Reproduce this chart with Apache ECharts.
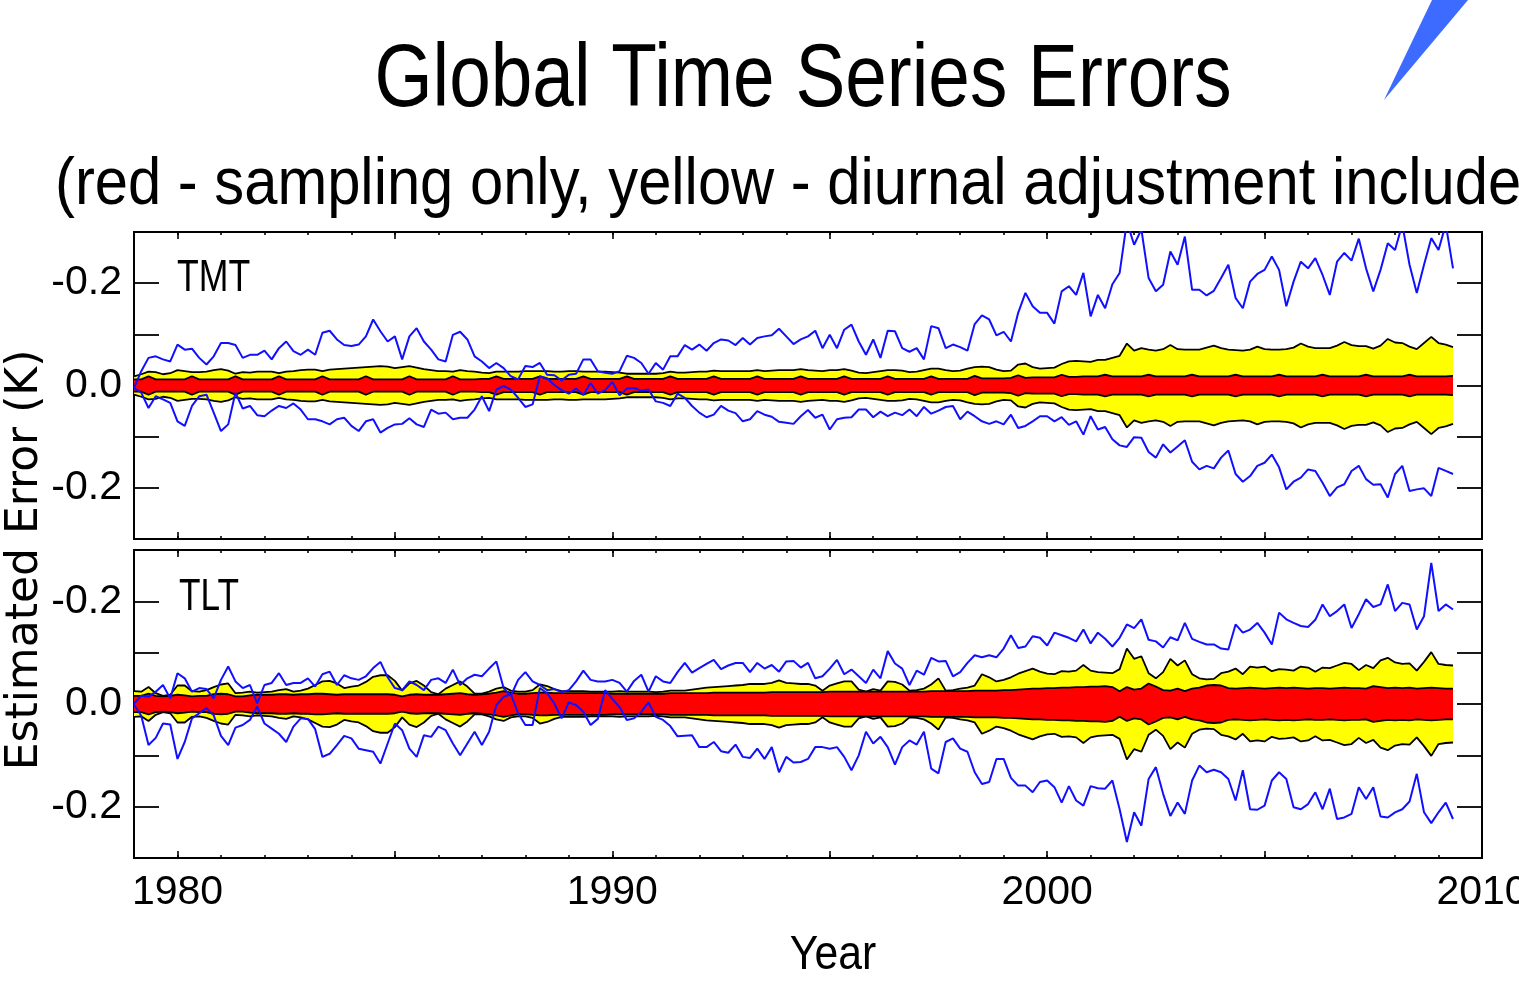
<!DOCTYPE html>
<html>
<head>
<meta charset="utf-8">
<script src="https://cdn.jsdelivr.net/npm/echarts@6/dist/echarts.min.js"></script>
<style>
html,body{margin:0;padding:0;background:#fff;}
#chart{width:1519px;height:985px;}
</style>
</head>
<body>
<div id="chart"></div>
<script>
// ---- data (bimonthly samples starting Jan 1979) ----
const START_YEAR = 1979;
const STEP = 1 / 6;

const TMT_UP = [
-0.005,0.028,0.054,0.057,0.051,0.047,0.080,0.070,0.072,0.054,
0.041,0.057,0.083,0.083,0.079,0.054,0.060,0.060,0.068,0.051,
0.073,0.086,0.067,0.060,0.070,0.060,0.103,0.107,0.090,0.079,
0.077,0.080,0.096,0.129,0.106,0.086,0.096,0.051,0.096,0.112,
0.086,0.070,0.051,0.047,0.099,0.105,0.090,0.057,0.047,0.034,
0.044,0.034,0.018,0.012,0.038,0.036,0.044,0.021,0.020,0.010,
0.021,0.023,0.051,0.051,0.028,0.025,0.023,0.028,0.058,0.054,
0.044,0.023,0.044,0.031,0.057,0.057,0.079,0.070,0.080,0.068,
0.083,0.090,0.088,0.079,0.093,0.080,0.093,0.096,0.098,0.111,
0.096,0.081,0.090,0.096,0.107,0.073,0.099,0.073,0.109,0.119,
0.086,0.060,0.090,0.054,0.107,0.106,0.073,0.066,0.073,0.051,
0.116,0.112,0.073,0.080,0.075,0.068,0.120,0.137,0.129,0.098,
0.105,0.086,0.142,0.181,0.155,0.142,0.142,0.121,0.184,0.194,
0.177,0.220,0.135,0.177,0.151,0.198,0.220,0.320,0.275,0.305,
0.210,0.184,0.197,0.262,0.236,0.291,0.187,0.187,0.176,0.185,
0.210,0.236,0.171,0.151,0.203,0.218,0.226,0.252,0.226,0.155,
0.203,0.242,0.229,0.249,0.216,0.177,0.242,0.259,0.244,0.287,
0.229,0.184,0.226,0.278,0.265,0.315,0.236,0.181,0.236,0.288,
0.265,0.315,0.229
];
const TMT_LO = [
-0.005,-0.014,-0.044,-0.021,-0.027,-0.034,-0.070,-0.079,-0.040,-0.021,
-0.018,-0.053,-0.089,-0.076,-0.014,-0.045,-0.040,-0.058,-0.060,-0.049,
-0.040,-0.044,-0.035,-0.047,-0.066,-0.066,-0.070,-0.076,-0.066,-0.063,
-0.079,-0.089,-0.070,-0.066,-0.092,-0.083,-0.076,-0.075,-0.064,-0.076,
-0.081,-0.047,-0.055,-0.053,-0.066,-0.063,-0.063,-0.047,-0.021,-0.050,
-0.008,-0.001,-0.008,-0.024,-0.042,-0.037,0.018,0.014,0.001,-0.009,
-0.016,-0.006,-0.018,0.005,-0.016,-0.009,0.007,-0.019,-0.006,-0.005,
-0.010,-0.008,-0.031,-0.034,-0.040,-0.016,-0.024,-0.040,-0.053,-0.062,
-0.057,-0.040,-0.049,-0.054,-0.070,-0.066,-0.050,-0.057,-0.061,-0.071,
-0.073,-0.075,-0.060,-0.048,-0.063,-0.057,-0.086,-0.066,-0.063,-0.062,
-0.047,-0.047,-0.062,-0.051,-0.060,-0.053,-0.058,-0.047,-0.060,-0.042,
-0.055,-0.049,-0.042,-0.040,-0.066,-0.051,-0.060,-0.070,-0.075,-0.070,
-0.076,-0.057,-0.083,-0.079,-0.070,-0.060,-0.060,-0.070,-0.062,-0.077,
-0.070,-0.096,-0.060,-0.086,-0.081,-0.105,-0.117,-0.120,-0.101,-0.102,
-0.130,-0.141,-0.115,-0.131,-0.119,-0.107,-0.149,-0.164,-0.157,-0.162,
-0.141,-0.127,-0.173,-0.188,-0.177,-0.157,-0.151,-0.135,-0.160,-0.203,
-0.188,-0.180,-0.164,-0.167,-0.190,-0.216,-0.199,-0.193,-0.167,-0.157,
-0.183,-0.194,-0.193,-0.219,-0.173,-0.157,-0.206,-0.203,-0.201,-0.216,
-0.161,-0.167,-0.173
];
// half-widths of the yellow (diurnal adj. included) and red (sampling only) bands
const TMT_YELLOW = [
0.018,0.022,0.027,0.026,0.022,0.024,0.030,0.028,0.026,0.026,
0.027,0.030,0.032,0.029,0.023,0.026,0.025,0.027,0.027,0.027,
0.024,0.027,0.028,0.030,0.031,0.031,0.028,0.031,0.032,0.033,
0.034,0.035,0.036,0.037,0.038,0.037,0.034,0.036,0.038,0.035,
0.032,0.030,0.028,0.028,0.027,0.030,0.028,0.027,0.025,0.024,
0.027,0.027,0.027,0.027,0.028,0.028,0.028,0.028,0.027,0.027,
0.028,0.028,0.027,0.027,0.027,0.027,0.026,0.025,0.023,0.023,
0.023,0.023,0.023,0.024,0.027,0.025,0.025,0.026,0.027,0.027,
0.029,0.028,0.028,0.028,0.028,0.028,0.030,0.028,0.029,0.030,
0.030,0.030,0.032,0.030,0.029,0.028,0.030,0.030,0.032,0.029,
0.025,0.024,0.026,0.028,0.030,0.030,0.029,0.026,0.027,0.030,
0.033,0.033,0.030,0.028,0.029,0.033,0.036,0.037,0.036,0.031,
0.028,0.029,0.041,0.043,0.036,0.033,0.034,0.035,0.042,0.047,
0.048,0.047,0.046,0.050,0.050,0.054,0.058,0.082,0.068,0.073,
0.070,0.068,0.071,0.079,0.071,0.070,0.070,0.070,0.074,0.078,
0.073,0.070,0.069,0.068,0.070,0.076,0.071,0.070,0.070,0.071,
0.074,0.082,0.076,0.073,0.073,0.073,0.078,0.085,0.079,0.077,
0.077,0.072,0.078,0.091,0.084,0.083,0.076,0.071,0.083,0.095,
0.083,0.080,0.075
];
const TMT_RED = [
0.012,0.012,0.018,0.012,0.012,0.012,0.012,0.012,0.018,0.012,
0.012,0.012,0.012,0.012,0.018,0.012,0.012,0.012,0.012,0.012,
0.018,0.012,0.012,0.012,0.012,0.012,0.018,0.012,0.012,0.012,
0.012,0.012,0.018,0.012,0.012,0.012,0.012,0.012,0.018,0.012,
0.012,0.012,0.012,0.012,0.018,0.012,0.012,0.012,0.013,0.013,
0.018,0.013,0.013,0.013,0.013,0.013,0.018,0.013,0.013,0.013,
0.013,0.013,0.018,0.013,0.013,0.013,0.013,0.013,0.018,0.013,
0.013,0.013,0.013,0.013,0.018,0.013,0.013,0.013,0.013,0.013,
0.018,0.013,0.013,0.013,0.013,0.013,0.018,0.013,0.013,0.013,
0.013,0.013,0.018,0.013,0.013,0.013,0.013,0.013,0.018,0.013,
0.013,0.013,0.013,0.013,0.018,0.013,0.013,0.013,0.013,0.013,
0.018,0.013,0.013,0.013,0.013,0.013,0.019,0.014,0.014,0.014,
0.014,0.015,0.020,0.015,0.016,0.016,0.016,0.016,0.021,0.017,
0.017,0.018,0.018,0.018,0.021,0.018,0.018,0.018,0.018,0.018,
0.021,0.018,0.018,0.018,0.018,0.018,0.021,0.018,0.018,0.018,
0.018,0.018,0.021,0.018,0.018,0.018,0.018,0.018,0.021,0.018,
0.018,0.018,0.018,0.018,0.021,0.018,0.018,0.018,0.018,0.018,
0.021,0.018,0.018,0.018,0.018,0.018,0.021,0.018,0.018,0.018,
0.018,0.018,0.019
];

const TLT_UP = [
0.001,0.016,0.014,0.024,0.037,0.011,0.060,0.050,0.024,0.031,
0.029,0.011,0.047,0.073,0.044,0.031,0.037,0.001,0.037,0.041,
0.060,0.037,0.041,0.041,0.050,0.034,0.058,0.063,0.037,0.056,
0.050,0.047,0.054,0.070,0.082,0.052,0.031,0.027,0.044,0.037,
0.027,0.047,0.050,0.041,0.067,0.037,0.050,0.057,0.054,0.069,
0.083,0.031,0.016,0.047,0.062,0.044,0.037,0.027,0.029,0.023,
0.027,0.044,0.065,0.047,0.044,0.044,0.047,0.041,0.024,0.045,
0.057,0.024,0.054,0.044,0.041,0.062,0.080,0.061,0.070,0.078,
0.086,0.068,0.075,0.080,0.080,0.062,0.080,0.069,0.076,0.063,
0.083,0.084,0.071,0.080,0.050,0.054,0.069,0.086,0.058,0.067,
0.054,0.041,0.067,0.050,0.103,0.079,0.069,0.037,0.065,0.057,
0.090,0.083,0.084,0.054,0.062,0.080,0.095,0.091,0.095,0.091,
0.108,0.134,0.109,0.112,0.132,0.129,0.114,0.139,0.134,0.129,
0.122,0.145,0.118,0.139,0.127,0.112,0.129,0.155,0.148,0.165,
0.125,0.122,0.110,0.130,0.124,0.158,0.127,0.121,0.116,0.116,
0.108,0.106,0.155,0.139,0.145,0.158,0.139,0.116,0.178,0.165,
0.158,0.152,0.150,0.164,0.194,0.171,0.181,0.194,0.148,0.175,
0.204,0.189,0.194,0.233,0.181,0.197,0.194,0.145,0.171,0.275,
0.181,0.194,0.184
];
const TLT_LO = [
-0.001,-0.023,-0.080,-0.066,-0.038,-0.040,-0.107,-0.074,-0.028,-0.018,
-0.008,-0.022,-0.062,-0.080,-0.046,-0.041,-0.031,-0.005,-0.038,-0.048,
-0.058,-0.074,-0.044,-0.028,-0.029,-0.049,-0.103,-0.097,-0.080,-0.062,
-0.067,-0.087,-0.090,-0.093,-0.116,-0.077,-0.038,-0.051,-0.087,-0.103,
-0.061,-0.064,-0.044,-0.051,-0.077,-0.100,-0.077,-0.054,-0.080,-0.054,
-0.002,0.014,0.019,-0.018,-0.041,-0.041,0.031,0.021,0.001,-0.028,
0.003,-0.002,-0.015,-0.041,-0.029,0.027,0.010,-0.006,-0.031,-0.028,
-0.015,0.003,-0.025,-0.031,-0.043,-0.063,-0.062,-0.061,-0.084,-0.084,
-0.074,-0.092,-0.095,-0.079,-0.103,-0.105,-0.087,-0.107,-0.084,-0.133,
-0.103,-0.114,-0.113,-0.107,-0.084,-0.084,-0.087,-0.084,-0.103,-0.129,
-0.100,-0.054,-0.077,-0.064,-0.084,-0.118,-0.084,-0.071,-0.079,-0.054,
-0.126,-0.135,-0.074,-0.067,-0.087,-0.093,-0.133,-0.156,-0.152,-0.107,
-0.107,-0.144,-0.159,-0.159,-0.172,-0.152,-0.149,-0.162,-0.192,-0.160,
-0.188,-0.198,-0.160,-0.164,-0.165,-0.149,-0.205,-0.269,-0.211,-0.237,
-0.146,-0.123,-0.175,-0.218,-0.192,-0.214,-0.149,-0.120,-0.133,-0.128,
-0.133,-0.146,-0.188,-0.129,-0.205,-0.206,-0.198,-0.149,-0.133,-0.146,
-0.201,-0.205,-0.195,-0.172,-0.205,-0.165,-0.224,-0.221,-0.214,-0.162,
-0.185,-0.162,-0.219,-0.221,-0.211,-0.205,-0.190,-0.136,-0.211,-0.232,
-0.211,-0.192,-0.224
];
const TLT_YELLOW = [
0.025,0.024,0.033,0.021,0.016,0.018,0.036,0.036,0.025,0.024,
0.027,0.033,0.038,0.040,0.021,0.022,0.024,0.022,0.023,0.024,
0.027,0.029,0.024,0.026,0.030,0.037,0.044,0.045,0.040,0.031,
0.034,0.036,0.043,0.053,0.056,0.056,0.045,0.026,0.040,0.045,
0.036,0.023,0.019,0.030,0.037,0.044,0.034,0.020,0.020,0.024,
0.030,0.033,0.026,0.024,0.024,0.027,0.038,0.035,0.029,0.025,
0.025,0.025,0.025,0.024,0.024,0.024,0.024,0.025,0.024,0.024,
0.024,0.024,0.023,0.024,0.026,0.026,0.026,0.028,0.030,0.032,
0.033,0.034,0.035,0.036,0.037,0.039,0.039,0.039,0.041,0.046,
0.041,0.040,0.039,0.039,0.036,0.026,0.036,0.040,0.044,0.044,
0.028,0.024,0.029,0.026,0.044,0.043,0.038,0.026,0.027,0.030,
0.038,0.050,0.026,0.027,0.030,0.032,0.036,0.058,0.052,0.044,
0.047,0.052,0.059,0.064,0.069,0.063,0.059,0.058,0.064,0.063,
0.065,0.076,0.065,0.062,0.061,0.060,0.068,0.108,0.088,0.093,
0.060,0.050,0.062,0.088,0.075,0.085,0.058,0.050,0.048,0.049,
0.060,0.063,0.069,0.058,0.073,0.071,0.073,0.064,0.068,0.067,
0.065,0.073,0.071,0.063,0.071,0.070,0.075,0.080,0.078,0.066,
0.076,0.070,0.085,0.090,0.081,0.078,0.079,0.065,0.082,0.101,
0.078,0.076,0.075
];
const TLT_RED = [
0.016,0.016,0.020,0.016,0.015,0.016,0.018,0.017,0.015,0.016,
0.016,0.019,0.020,0.019,0.015,0.015,0.017,0.018,0.018,0.018,
0.019,0.019,0.018,0.019,0.019,0.020,0.020,0.019,0.018,0.019,
0.019,0.019,0.019,0.019,0.019,0.019,0.018,0.015,0.018,0.019,
0.018,0.018,0.018,0.019,0.020,0.021,0.019,0.018,0.019,0.020,
0.022,0.025,0.022,0.020,0.020,0.021,0.022,0.022,0.021,0.021,
0.021,0.021,0.021,0.021,0.021,0.021,0.020,0.020,0.020,0.020,
0.020,0.020,0.020,0.020,0.021,0.021,0.021,0.021,0.021,0.021,
0.022,0.022,0.022,0.022,0.022,0.022,0.022,0.022,0.023,0.023,
0.023,0.023,0.023,0.023,0.023,0.023,0.024,0.024,0.024,0.024,
0.024,0.024,0.024,0.024,0.024,0.024,0.024,0.024,0.024,0.024,
0.025,0.025,0.025,0.025,0.025,0.025,0.026,0.026,0.026,0.026,
0.027,0.027,0.028,0.029,0.030,0.030,0.031,0.031,0.032,0.032,
0.033,0.033,0.034,0.034,0.035,0.033,0.025,0.033,0.028,0.030,
0.040,0.034,0.027,0.026,0.030,0.025,0.030,0.032,0.036,0.037,
0.036,0.031,0.030,0.031,0.032,0.031,0.030,0.031,0.032,0.031,
0.032,0.031,0.030,0.031,0.031,0.030,0.031,0.032,0.031,0.031,
0.030,0.035,0.033,0.031,0.032,0.031,0.032,0.030,0.031,0.032,
0.031,0.030,0.030
];

// ---- axis ticks / labels ----
const X_LABELS = [1980, 1990, 2000, 2010];
const X_MAJOR_TICKS = [1980, 1985, 1990, 1995, 2000, 2005, 2010];
const X_MINOR_TICKS = [1979,1980,1981,1982,1983,1984,1985,1986,1987,1988,1989,1990,1991,1992,1993,1994,1995,1996,1997,1998,1999,2000,2001,2002,2003,2004,2005,2006,2007,2008,2009,2010];
const Y_TICKS = [-0.2, -0.1, 0, 0.1, 0.2];
const Y_LABELS = [-0.2, 0, 0.2];
const Y_LABEL_TEXT = ['-0.2', '0.0', '-0.2']; // as printed on the original

const PANELS = ['TMT', 'TLT'];

// ---- build ----
const SANS = "'Liberation Sans', Arial, sans-serif";
const WIDE = "'DejaVu Sans', sans-serif";

function xAt(i) { return START_YEAR + i * STEP; }
function pts(vals, sign) {
  return vals.map((v, i) => [xAt(i), sign * v]);
}

const grids = [
  {left: 134, top: 232, width: 1348, height: 307},
  {left: 134, top: 550, width: 1348, height: 308}
].map(g => Object.assign(g, {show: true, borderColor: '#000', borderWidth: 2, backgroundColor: 'transparent', containLabel: false, outerBoundsMode: 'none'}));

const xAxes = [];
const yAxes = [];
[0, 1].forEach(g => {
  const base = {gridIndex: g, type: 'value', min: 1979, max: 2010,
    axisLine: {show: false, onZero: false}, splitLine: {show: false}};
  const tick = (vals, len) => ({show: true, inside: true, length: len, customValues: vals,
    lineStyle: {color: '#000', width: 1.6}});
  xAxes.push(Object.assign({}, base, {position: 'bottom', axisTick: tick(X_MAJOR_TICKS, 7),
    axisLabel: {show: g === 1, customValues: X_LABELS, margin: 14, color: '#000',
      fontSize: 41, fontFamily: SANS, formatter: v => String(v)}}));
  xAxes.push(Object.assign({}, base, {position: 'bottom', axisTick: tick(X_MINOR_TICKS, 3), axisLabel: {show: false}}));
  xAxes.push(Object.assign({}, base, {position: 'top', axisTick: tick(X_MAJOR_TICKS, 7), axisLabel: {show: false}}));
  xAxes.push(Object.assign({}, base, {position: 'top', axisTick: tick(X_MINOR_TICKS, 3), axisLabel: {show: false}}));

  const ybase = {gridIndex: g, type: 'value', min: -0.3, max: 0.3,
    axisLine: {show: false, onZero: false}, splitLine: {show: false},
    axisTick: {show: true, inside: true, length: 25, customValues: Y_TICKS, lineStyle: {color: '#000', width: 1.8}}};
  yAxes.push(Object.assign({}, ybase, {position: 'left',
    axisLabel: {show: true, customValues: Y_LABELS, margin: 12, color: '#000', fontSize: 41, fontFamily: SANS,
      formatter: v => {
        const k = Y_LABELS.findIndex(l => Math.abs(l - v) < 1e-9);
        return k >= 0 ? Y_LABEL_TEXT[k] : '';
      }}}));
  yAxes.push(Object.assign({}, ybase, {position: 'right', axisLabel: {show: false}}));
});

const series = [];
const bandSets = [
  {up: TMT_UP, lo: TMT_LO, yel: TMT_YELLOW, red: TMT_RED},
  {up: TLT_UP, lo: TLT_LO, yel: TLT_YELLOW, red: TLT_RED}
];
bandSets.forEach((d, g) => {
  const xi = g * 4, yi = g * 2;
  const common = {xAxisIndex: xi, yAxisIndex: yi, silent: true};
  // filled band (one polygon through the axis scales) + black edge lines
  const band = (vals, color, z) => {
    series.push(Object.assign({}, common, {
      type: 'custom', z: z, data: pts(vals, 1), encode: {x: 0, y: 1},
      renderItem: (params, api) => {
        if (params.dataIndex !== 0) return null;
        const top = vals.map((v, i) => api.coord([xAt(i), v]));
        const bot = vals.map((v, i) => api.coord([xAt(i), -v])).reverse();
        return {type: 'polygon', shape: {points: top.concat(bot)},
          style: {fill: color, stroke: null}};
      }
    }));
    [1, -1].forEach(sign => series.push(Object.assign({}, common, {
      type: 'line', z: z, data: pts(vals, sign), symbol: 'none', showSymbol: false,
      lineStyle: {color: '#000', width: 1.8}
    })));
  };
  band(d.yel, '#ffff00', 2);
  band(d.red, '#ff0000', 3);
  [d.up, d.lo].forEach(vals => series.push(Object.assign({}, common, {
    type: 'line', data: pts(vals, 1), z: 4, clip: true, symbol: 'none', showSymbol: false,
    lineStyle: {color: '#1010ff', width: 2}
  })));
});

const txt = (text, x, y, size, family, align, extra) => Object.assign({
  type: 'text', x: x, y: y, silent: true, z: 100,
  style: {text: text, fontSize: size, fontFamily: family, fill: '#000',
    textAlign: align, align: align, textVerticalAlign: 'middle', verticalAlign: 'middle'}
}, extra || {});

const option = {
  animation: false,
  backgroundColor: '#fff',
  grid: grids,
  xAxis: xAxes,
  yAxis: yAxes,
  series: series,
  graphic: [
    {type: 'polygon', silent: true, z: 100,
      shape: {points: [[1384, 100], [1432, 0], [1468, 0]]},
      style: {fill: '#3d6bff'}},
    txt('Global Time Series Errors', 803, 81, 89, SANS, 'center', {scaleX: 0.84}),
    txt('(red - sampling only, yellow - diurnal adjustment included)', 55, 186, 66, SANS, 'left', {scaleX: 0.905}),
    txt(PANELS[0], 177, 279, 44, SANS, 'left', {scaleX: 0.81}),
    txt(PANELS[1], 179, 598, 44, SANS, 'left', {scaleX: 0.8}),
    txt('Year', 833, 956, 48, SANS, 'center', {scaleX: 0.89}),
    txt('Estimated Error (K)', 26, 560, 44, WIDE, 'center', {rotation: Math.PI / 2})
  ]
};

const chart = echarts.init(document.getElementById('chart'), null, {renderer: 'canvas'});
chart.setOption(option);
</script>
</body>
</html>
